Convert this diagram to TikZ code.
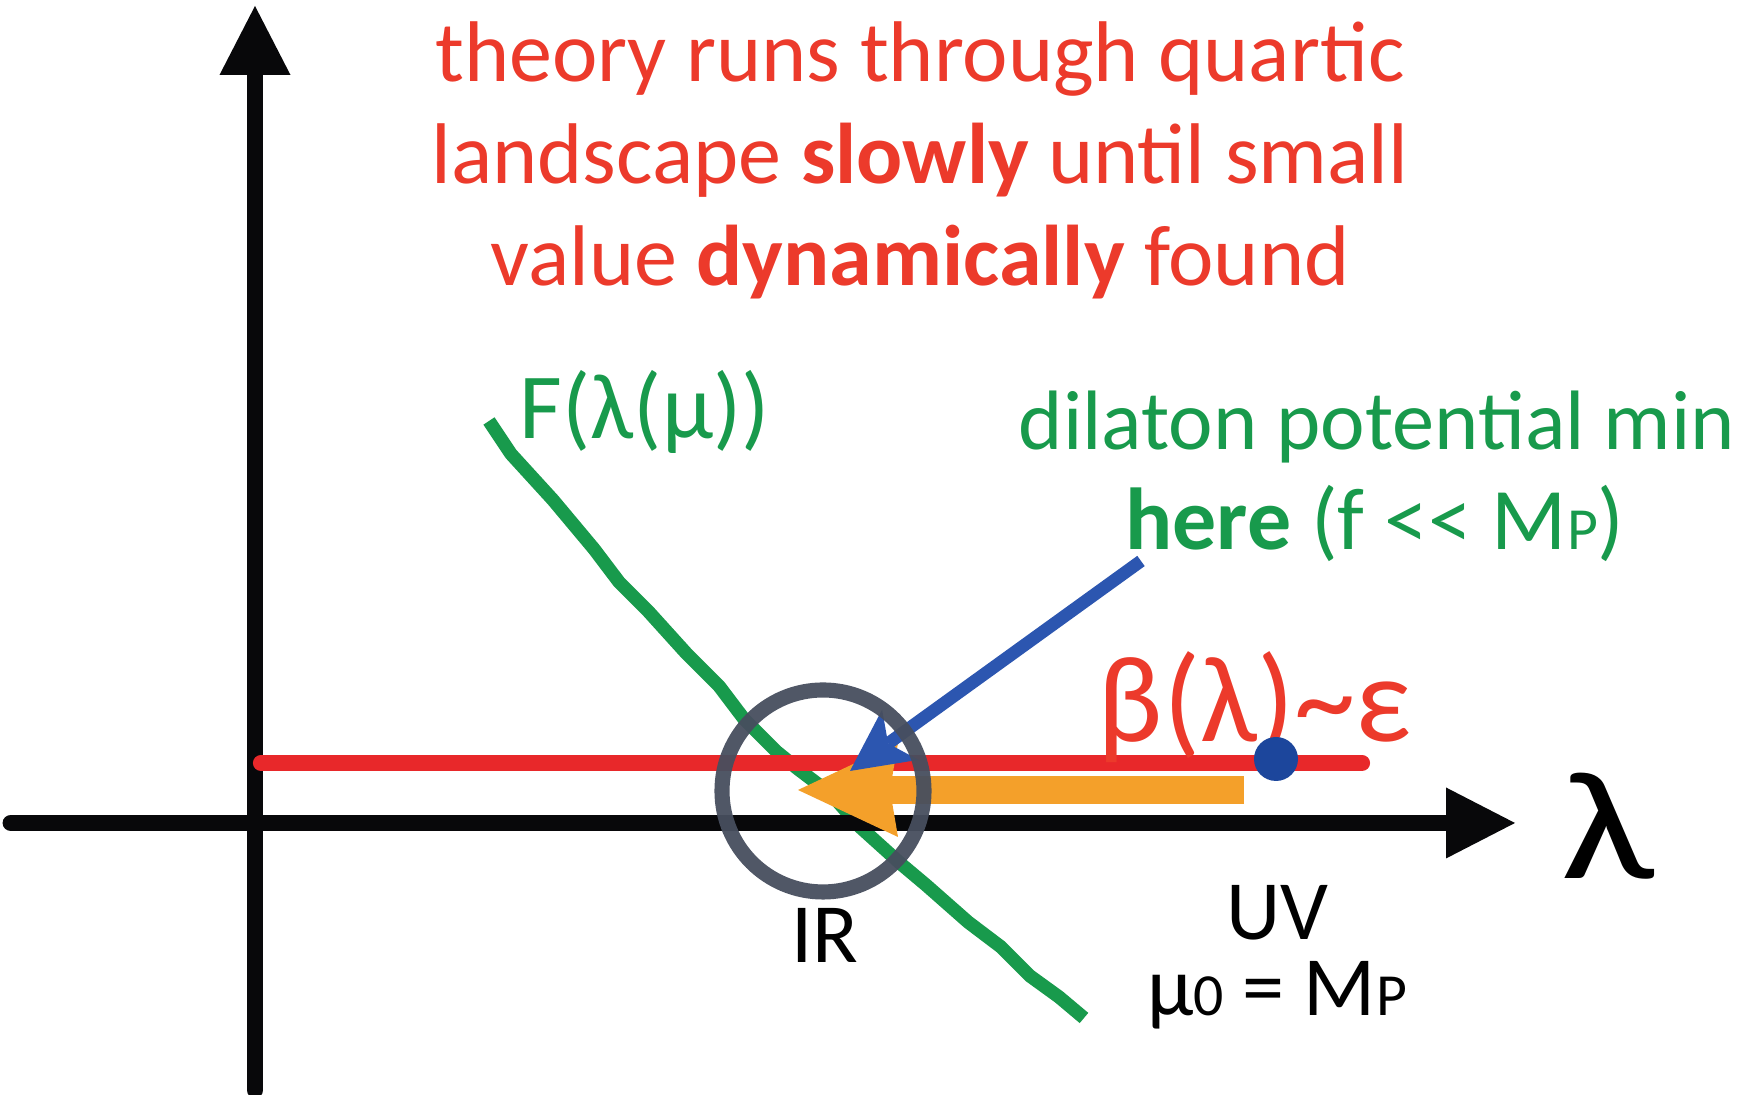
\documentclass[tikz,border=0pt]{standalone}
\usepackage{fontspec}
\setmainfont{Carlito}[Ligatures=TeXOff]
\usepackage{tikz}
\usetikzlibrary{arrows.meta,positioning}
\definecolor{txtred}{RGB}{236,58,43}
\definecolor{linered}{RGB}{232,40,42}
\definecolor{fgreen}{RGB}{24,154,76}
\definecolor{pblue}{RGB}{44,86,176}
\definecolor{dotblue}{RGB}{28,70,156}
\definecolor{flowor}{RGB}{244,160,42}
\definecolor{ircirc}{RGB}{71,78,94}
\definecolor{axblk}{RGB}{8,8,10}
\newcommand{\lowcap}[1]{{\fontsize{17}{17}\selectfont #1}}

\tikzset{
  axisline/.style={axblk,line width=4.8pt,line cap=round,-{Triangle[length=6.9mm,width=7.1mm,line width=0pt]}},
  lbl/.style={inner sep=0pt,font=\fontsize{24}{29}\selectfont},
}

\begin{document}
\begin{tikzpicture}
  \useasboundingbox (0,0) rectangle (17.51,10.95);
  \coordinate (ybot) at (2.55,0.05);  \coordinate (ytop) at (2.55,10.89);
  \coordinate (xleft) at (0.11,2.72); \coordinate (xright) at (15.15,2.72);
  \coordinate (flatl) at (2.61,3.32); \coordinate (flatr) at (13.62,3.32);
  \coordinate (flowstart) at (12.44,3.05); \coordinate (flowend) at (7.98,3.05);
  \coordinate (pointtail) at (11.41,5.34); \coordinate (pointhead) at (8.50,3.24);
  % F(lambda(mu)) drawn by hand
  \draw[fgreen,line width=3.8pt,line join=round] (4.89,6.74) -- (5.11,6.41) -- (5.53,5.95) -- (5.94,5.46)
    -- (6.19,5.13) -- (6.48,4.84) -- (6.86,4.42) -- (7.19,4.09) -- (7.44,3.76) -- (7.77,3.43) -- (7.98,3.26)
    -- (8.31,3.01) -- (8.60,2.68) -- (9.01,2.31) -- (9.26,2.10) -- (9.68,1.73) -- (10.01,1.48) -- (10.30,1.19)
    -- (10.59,0.98) -- (10.84,0.77);
  \draw[axisline] (ybot) -- (ytop);
  \draw[axisline] (xleft) -- (xright);
  \draw[linered,line width=4.6pt,line cap=round] (flatl) -- (flatr);
  \node[inner sep=0pt,txtred,font=\fontsize{35}{35}\selectfont] (betaflat) at (12.55,3.88) {β(λ)\textasciitilde ε};
  \node[inner sep=0pt,font=\fontsize{44}{44}\selectfont] (lamaxis) at (16.08,2.69) {\scalebox{1.3}[1]{λ}};
  \draw[flowor,line width=8pt,-{Stealth[length=10mm,width=9.4mm,inset=0.8mm,line width=0pt]}] (flowstart) -- (flowend);
  \node[circle,fill=dotblue,minimum size=4.4mm,inner sep=0pt] (uvdot) at (12.76,3.36) {};
  \draw[pblue,line width=3.6pt,-{Stealth[length=6.2mm,width=6.2mm,inset=1.5mm,line width=0pt]}] (pointtail) -- (pointhead);
  \node[circle,draw=ircirc,opacity=0.95,line width=4.3pt,minimum size=2.02cm,inner sep=0pt] (irloop) at (8.23,3.04) {};
  % labels
  \node[lbl,txtred,align=center,anchor=north,font=\fontsize{24.5}{29}\selectfont] (story) at (9.20,10.74)
    {theory runs through quartic\\landscape \textbf{slowly} until small\\value \textbf{dynamically} found};
  \node[lbl,fgreen,anchor=base west,font=\fontsize{26.5}{29}\selectfont] (flabel) at (5.19,6.56) {F(λ(μ))};
  \node[lbl,fgreen,anchor=base] (dilmin) at (13.77,6.45) {dilaton potential min};
  \node[lbl,fgreen,anchor=base,font=\fontsize{25}{29}\selectfont] (herept) at (13.75,5.45) {\textbf{here} (f << M\lowcap{P})};
  \node[lbl,anchor=base] (irtxt) at (8.25,1.32) {IR};
  \node[lbl,anchor=base] (uvtxt) at (12.77,1.55) {UV};
  \node[lbl,anchor=base] (scaleeq) at (12.77,0.79) {μ\lowcap{0} = M\lowcap{P}};
\end{tikzpicture}
\end{document}
